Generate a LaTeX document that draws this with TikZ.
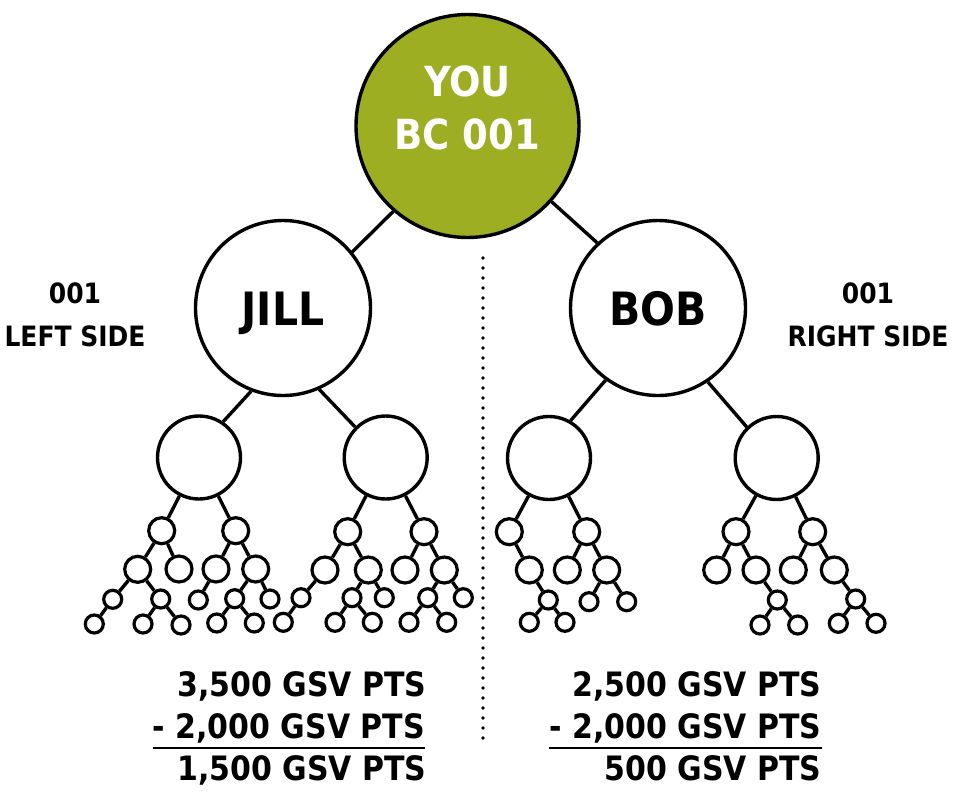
\documentclass[tikz,border=0pt]{standalone}
\usepackage{fontspec}
\setmainfont{DejaVu Sans}
\definecolor{youfill}{RGB}{158,174,35}
\newcommand{\tall}[1]{\scalebox{1}[1.12]{#1}}
\newcommand{\minusline}[1]{\setbox0\hbox{#1}\rlap{\rule[-11.25pt]{\wd0}{2.5pt}}\box0}

\begin{document}
\begin{tikzpicture}[x=1pt, y=-1pt,
    you/.style={circle, draw, line width=3.4pt, fill=youfill, minimum size=223pt, inner sep=0pt},
    member/.style={circle, draw, line width=3.4pt, minimum size=175pt, inner sep=0pt,
      font=\bfseries\fontsize{41}{49}\selectfont, text height=34pt, text depth=0pt},
    leg/.style={circle, draw, line width=3.4pt, minimum size=83pt, inner sep=0pt},
    sub/.style={circle, draw, line width=3.2pt, minimum size=26pt, inner sep=0pt},
    tip/.style={circle, draw, line width=3.2pt, minimum size=18pt, inner sep=0pt},
    side/.style={align=center, font=\bfseries\fontsize{25}{43}\selectfont},
    pts/.style={anchor=base east, inner sep=0pt, font=\bfseries\fontsize{30}{36}\selectfont},
    every edge/.style={draw, line width=3.4pt}]
    \useasboundingbox (0,0) rectangle (953,796);

    \node[you] (0) at (467.5,126) {};
    \node[align=center, text=white, font=\bfseries\fontsize{37}{53}\selectfont] (0t) at (467.5,108) {\tall{YOU}\\\tall{BC 001}};
    \node[member] (1) at (283,308) {\tall{JILL}};
    \node[member] (2) at (658,308) {\tall{BOB}};

    \node[leg] (3) at (199,457.5) {};
    \node[leg] (4) at (385.7,457.5) {};
    \node[leg] (5) at (549,458) {};
    \node[leg] (6) at (776.7,458) {};

    % jill, left leg
    \node[sub] (7) at (161.7,530.7) {};
    \node[sub] (8) at (235.7,530.7) {};
    \node[sub] (9) at (137.7,569.3) {};
    \node[sub] (10) at (179,569) {};
    \node[sub] (11) at (216,569) {};
    \node[sub] (12) at (255.7,569) {};
    \node[tip] (13) at (112.7,599.3) {};
    \node[tip] (14) at (160.7,599) {};
    \node[tip] (15) at (198.3,600) {};
    \node[tip] (16) at (234.7,598.7) {};
    \node[tip] (17) at (270,599) {};
    \node[tip] (18) at (94.3,624) {};
    \node[tip] (19) at (143,624) {};
    \node[tip] (20) at (181,625) {};
    \node[tip] (21) at (216.7,623) {};
    \node[tip] (22) at (254.3,623) {};

    % jill, right leg
    \node[sub] (23) at (347.7,531.7) {};
    \node[sub] (24) at (424,531.7) {};
    \node[sub] (25) at (325,570) {};
    \node[sub] (26) at (368.3,570) {};
    \node[sub] (27) at (405,570) {};
    \node[sub] (28) at (444.3,570) {};
    \node[tip] (29) at (301,597.7) {};
    \node[tip] (30) at (352,597.7) {};
    \node[tip] (31) at (384.3,597.7) {};
    \node[tip] (32) at (427.7,597.7) {};
    \node[tip] (33) at (463.3,597.7) {};
    \node[tip] (34) at (283.3,622.3) {};
    \node[tip] (35) at (335,622.3) {};
    \node[tip] (36) at (372.3,622.3) {};
    \node[tip] (37) at (409,622.3) {};
    \node[tip] (38) at (446.7,622.3) {};

    % bob, left leg
    \node[sub] (39) at (509.3,531.7) {};
    \node[sub] (40) at (586.7,531.7) {};
    \node[sub] (41) at (529.3,570) {};
    \node[sub] (42) at (567.3,570) {};
    \node[sub] (43) at (606.7,570) {};
    \node[tip] (44) at (548.3,600) {};
    \node[tip] (45) at (589,601.7) {};
    \node[tip] (46) at (626.7,601.7) {};
    \node[tip] (47) at (529.3,622.3) {};
    \node[tip] (48) at (565,622.3) {};

    % bob, right leg
    \node[sub] (49) at (736,531.7) {};
    \node[sub] (50) at (812.7,531.7) {};
    \node[sub] (51) at (716.7,570) {};
    \node[sub] (52) at (756,570) {};
    \node[sub] (53) at (793.3,570) {};
    \node[sub] (54) at (834.3,570) {};
    \node[tip] (55) at (777.3,600) {};
    \node[tip] (56) at (855.7,599) {};
    \node[tip] (57) at (760,625) {};
    \node[tip] (58) at (797.7,625) {};
    \node[tip] (59) at (838.3,623.3) {};
    \node[tip] (60) at (876,623.3) {};

    \node[side] (61) at (75,315) {\tall{001}\\\tall{LEFT SIDE}};
    \node[side] (62) at (868,315) {\tall{001}\\\tall{RIGHT SIDE}};

    \node[pts] (63) at (426.7,696.7) {\tall{3,500 GSV PTS}};
    \node[pts] (64) at (425,738) {\minusline{\tall{- 2,000 GSV PTS}}};
    \node[pts] (65) at (426.7,780.7) {\tall{1,500 GSV PTS}};
    \node[pts] (66) at (821.7,696.7) {\tall{2,500 GSV PTS}};
    \node[pts] (67) at (821.7,738) {\minusline{\tall{- 2,000 GSV PTS}}};
    \node[pts] (68) at (821.7,780.7) {\tall{500 GSV PTS}};

    \coordinate (69) at (483,258);
    \coordinate (70) at (483,745);
    \draw[line width=3.6pt, line cap=round, dash pattern=on 0pt off 10pt] (69) -- (70);

    \draw (0.229) edge (1.39);
    \draw (0.318.7) edge (2.133.5);
    \draw (1.249.5) edge (3.56);
    \draw (1.294) edge (4.135);
    \draw (2.234) edge (5.60);
    \draw (2.304) edge (6.134);

    \draw (3) edge (7);
    \draw (3) edge (8);
    \draw (7) edge (9);
    \draw (7) edge (10);
    \draw (8) edge (11);
    \draw (8) edge (12);
    \draw (9) edge (13);
    \draw (9) edge (14);
    \draw (11) edge (15);
    \draw (12) edge (16);
    \draw (12) edge (17);
    \draw (13) edge (18);
    \draw (14) edge (19);
    \draw (14) edge (20);
    \draw (16) edge (21);
    \draw (16) edge (22);

    \draw (4) edge (23);
    \draw (4) edge (24);
    \draw (23) edge (25);
    \draw (23) edge (26);
    \draw (24) edge (27);
    \draw (24) edge (28);
    \draw (25) edge (29);
    \draw (26) edge (30);
    \draw (26) edge (31);
    \draw (28) edge (32);
    \draw (28) edge (33);
    \draw (29) edge (34);
    \draw (30) edge (35);
    \draw (30) edge (36);
    \draw (32) edge (37);
    \draw (32) edge (38);

    \draw (5) edge (39);
    \draw (5) edge (40);
    \draw (39) edge (41);
    \draw (40) edge (42);
    \draw (40) edge (43);
    \draw (41) edge (44);
    \draw (43) edge (45);
    \draw (43) edge (46);
    \draw (44) edge (47);
    \draw (44) edge (48);

    \draw (6) edge (49);
    \draw (6) edge (50);
    \draw (49) edge (51);
    \draw (49) edge (52);
    \draw (50) edge (53);
    \draw (50) edge (54);
    \draw (52) edge (55);
    \draw (54) edge (56);
    \draw (55) edge (57);
    \draw (55) edge (58);
    \draw (56) edge (59);
    \draw (56) edge (60);
  \end{tikzpicture}
\end{document}
